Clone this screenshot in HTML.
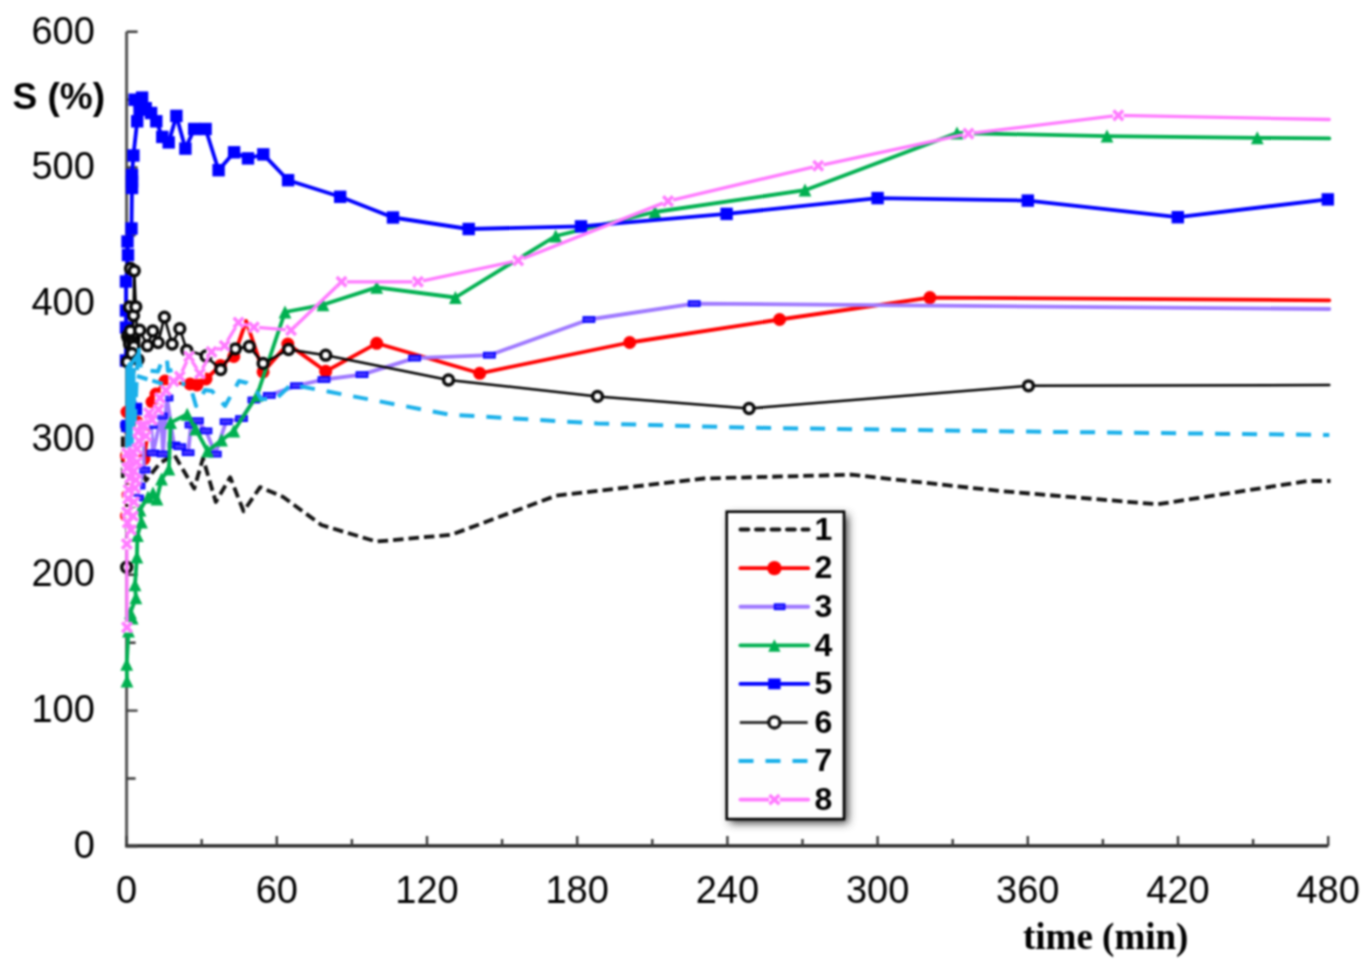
<!DOCTYPE html>
<html><head><meta charset="utf-8"><style>
html,body{margin:0;padding:0;background:#fff;}
svg{display:block;}
.tl{font-family:"Liberation Sans",sans-serif;font-size:38px;fill:#000;}
.yl{font-family:"Liberation Sans",sans-serif;font-size:37px;font-weight:bold;fill:#000;}
.xl{font-family:"Liberation Serif",serif;font-size:37px;font-weight:bold;fill:#000;}
.lg{font-family:"Liberation Sans",sans-serif;font-size:32px;font-weight:bold;fill:#000;}
</style></head><body>
<svg width="1372" height="972" viewBox="0 0 1372 972">
<defs><filter id="sh" x="-30%" y="-30%" width="160%" height="160%"><feGaussianBlur stdDeviation="4"/></filter><filter id="gb" x="0" y="0" width="1372" height="972" filterUnits="userSpaceOnUse" color-interpolation-filters="sRGB"><feConvolveMatrix order="5" kernelMatrix="1 4 6 4 1 4 16 24 16 4 6 24 36 24 6 4 16 24 16 4 1 4 6 4 1" edgeMode="duplicate" preserveAlpha="false"/></filter></defs>
<rect width="1372" height="972" fill="#fff"/>
<g filter="url(#gb)">
<path d="M126.6,31.699999999999932 V845.9" fill="none" stroke="#555" stroke-width="3"/>
<path d="M125.1,845.9 H1328.1839999999997" fill="none" stroke="#222" stroke-width="3.2"/>
<path d="M126.6,846.4h11 M126.6,778.5h9 M126.6,710.6h11 M126.6,642.7h9 M126.6,574.8h11 M126.6,506.9h9 M126.6,439.1h11 M126.6,371.2h9 M126.6,303.3h11 M126.6,235.4h9 M126.6,167.5h11 M126.6,99.6h9 M126.6,31.7h11 M126.6,845.9v-10 M201.7,845.9v-7 M276.8,845.9v-10 M351.9,845.9v-7 M427.0,845.9v-10 M502.1,845.9v-7 M577.2,845.9v-10 M652.3,845.9v-7 M727.4,845.9v-10 M802.5,845.9v-7 M877.6,845.9v-10 M952.7,845.9v-7 M1027.8,845.9v-10 M1102.9,845.9v-7 M1178.0,845.9v-10 M1253.1,845.9v-7 M1328.2,845.9v-10" stroke="#3a3a3a" stroke-width="2.4" fill="none"/>
<text x="94.8" y="857.7" text-anchor="end" class="tl">0</text>
<text x="94.8" y="722.0" text-anchor="end" class="tl">100</text>
<text x="94.8" y="586.3" text-anchor="end" class="tl">200</text>
<text x="94.8" y="450.6" text-anchor="end" class="tl">300</text>
<text x="94.8" y="314.9" text-anchor="end" class="tl">400</text>
<text x="94.8" y="179.2" text-anchor="end" class="tl">500</text>
<text x="94.8" y="43.5" text-anchor="end" class="tl">600</text>
<text x="126.6" y="902.5" text-anchor="middle" class="tl">0</text>
<text x="276.8" y="902.5" text-anchor="middle" class="tl">60</text>
<text x="427.0" y="902.5" text-anchor="middle" class="tl">120</text>
<text x="577.2" y="902.5" text-anchor="middle" class="tl">180</text>
<text x="727.4" y="902.5" text-anchor="middle" class="tl">240</text>
<text x="877.6" y="902.5" text-anchor="middle" class="tl">300</text>
<text x="1027.8" y="902.5" text-anchor="middle" class="tl">360</text>
<text x="1178.0" y="902.5" text-anchor="middle" class="tl">420</text>
<text x="1328.2" y="902.5" text-anchor="middle" class="tl">480</text>
<text x="12.5" y="108.7" class="yl">S (%)</text>
<text x="1023" y="948.6" class="xl">time (min)</text>
<path d="M122.8,478.0 L122.8,424.0 L146.0,480.5 L160.0,463.0 L174.2,454.7 L194.2,488.6 L203.0,458.3 L215.8,502.0 L230.2,477.3 L243.6,511.3 L260.1,487.1 L283.2,497.0 L321.4,525.0 L376.3,541.6 L451.5,534.7 L556.1,495.7 L703.8,478.5 L851.4,474.7 L1000.0,491.0 L1157.3,504.3 L1308.0,481.0 L1330.5,481.0" fill="none" stroke="#111" stroke-width="3.8" stroke-dasharray="10.5 5" stroke-linejoin="round"/>
<path d="M126.5,516.0 L128.0,495.0 L126.5,456.0 L127.0,412.0 L137.0,422.0 L144.0,459.0 L152.0,402.0 L156.0,394.0 L165.0,381.0 L190.0,384.0 L197.0,385.0 L206.0,379.0 L220.5,365.5 L233.8,356.5 L246.2,321.0 L263.1,371.9 L287.8,344.1 L325.7,371.3 L376.7,343.3 L479.7,373.3 L629.7,342.5 L779.6,319.5 L929.9,297.6 L1329.3,300.3" fill="none" stroke="#ff0000" stroke-width="3.8" stroke-linejoin="round" stroke-linecap="round"/>
<g fill="#ff0000"><circle cx="126.5" cy="516.0" r="6.5"/><circle cx="128.0" cy="495.0" r="6.5"/><circle cx="126.5" cy="456.0" r="6.5"/><circle cx="127.0" cy="412.0" r="6.5"/><circle cx="137.0" cy="422.0" r="6.5"/><circle cx="144.0" cy="459.0" r="6.5"/><circle cx="152.0" cy="402.0" r="6.5"/><circle cx="156.0" cy="394.0" r="6.5"/><circle cx="165.0" cy="381.0" r="6.5"/><circle cx="190.0" cy="384.0" r="6.5"/><circle cx="197.0" cy="385.0" r="6.5"/><circle cx="206.0" cy="379.0" r="6.5"/><circle cx="220.5" cy="365.5" r="6.5"/><circle cx="233.8" cy="356.5" r="6.5"/><circle cx="263.1" cy="371.9" r="6.5"/><circle cx="287.8" cy="344.1" r="6.5"/><circle cx="325.7" cy="371.3" r="6.5"/><circle cx="376.7" cy="343.3" r="6.5"/><circle cx="479.7" cy="373.3" r="6.5"/><circle cx="629.7" cy="342.5" r="6.5"/><circle cx="779.6" cy="319.5" r="6.5"/><circle cx="929.9" cy="297.6" r="6.5"/></g>
<path d="M126.5,425.0 L137.5,498.0 L139.0,486.0 L144.0,470.0 L142.8,425.4 L151.1,425.4 L153.0,453.0 L161.3,416.0 L163.0,454.0 L167.0,398.0 L174.0,445.0 L179.8,446.7 L188.1,452.7 L191.0,425.0 L197.4,420.7 L206.0,430.9 L215.3,454.1 L226.1,421.7 L241.5,418.6 L253.9,400.0 L269.3,395.4 L296.5,385.7 L324.0,379.5 L362.0,374.6 L414.6,358.1 L489.4,355.2 L588.9,319.5 L694.2,303.6 L1329.3,309.0" fill="none" stroke="#9e78ff" stroke-width="3.8" stroke-linejoin="round" stroke-linecap="round"/>
<g fill="#4433ff" stroke="#0000ff" stroke-width="1.6"><rect x="120.9" y="422.4" width="11.2" height="5.2"/><rect x="131.9" y="495.4" width="11.2" height="5.2"/><rect x="133.4" y="483.4" width="11.2" height="5.2"/><rect x="138.4" y="467.4" width="11.2" height="5.2"/><rect x="137.2" y="422.8" width="11.2" height="5.2"/><rect x="145.5" y="422.8" width="11.2" height="5.2"/><rect x="147.4" y="450.4" width="11.2" height="5.2"/><rect x="155.7" y="413.4" width="11.2" height="5.2"/><rect x="157.4" y="451.4" width="11.2" height="5.2"/><rect x="161.4" y="395.4" width="11.2" height="5.2"/><rect x="168.4" y="442.4" width="11.2" height="5.2"/><rect x="174.2" y="444.1" width="11.2" height="5.2"/><rect x="182.5" y="450.1" width="11.2" height="5.2"/><rect x="185.4" y="422.4" width="11.2" height="5.2"/><rect x="191.8" y="418.1" width="11.2" height="5.2"/><rect x="200.4" y="428.3" width="11.2" height="5.2"/><rect x="209.7" y="451.5" width="11.2" height="5.2"/><rect x="220.5" y="419.1" width="11.2" height="5.2"/><rect x="235.9" y="416.0" width="11.2" height="5.2"/><rect x="248.3" y="397.4" width="11.2" height="5.2"/><rect x="263.7" y="392.8" width="11.2" height="5.2"/><rect x="290.9" y="383.1" width="11.2" height="5.2"/><rect x="318.4" y="376.9" width="11.2" height="5.2"/><rect x="356.4" y="372.0" width="11.2" height="5.2"/><rect x="409.0" y="355.5" width="11.2" height="5.2"/><rect x="483.8" y="352.6" width="11.2" height="5.2"/><rect x="583.3" y="316.9" width="11.2" height="5.2"/><rect x="688.6" y="301.0" width="11.2" height="5.2"/></g>
<path d="M127.0,681.0 L126.7,664.4 L128.5,631.0 L132.2,618.0 L130.4,612.6 L135.9,597.8 L135.0,584.8 L136.9,557.0 L137.4,535.7 L141.5,522.0 L140.0,510.0 L148.0,497.0 L153.0,493.0 L157.0,499.0 L161.5,479.0 L168.9,469.0 L170.6,422.6 L187.2,414.3 L195.6,429.0 L207.6,451.0 L221.5,440.2 L233.8,431.0 L257.0,395.4 L285.0,312.0 L323.0,304.8 L376.7,287.4 L455.4,297.5 L555.7,236.0 L655.0,212.0 L805.0,190.2 L957.0,133.0 L1107.0,136.2 L1257.3,137.9 L1329.3,138.4" fill="none" stroke="#00b050" stroke-width="3.8" stroke-linejoin="round" stroke-linecap="round"/>
<g fill="#00b050"><path d="M127.0,674.4l6.4,13h-12.8z"/><path d="M126.7,657.8l6.4,13h-12.8z"/><path d="M128.5,624.4l6.4,13h-12.8z"/><path d="M132.2,611.4l6.4,13h-12.8z"/><path d="M130.4,606.0l6.4,13h-12.8z"/><path d="M135.9,591.2l6.4,13h-12.8z"/><path d="M135.0,578.2l6.4,13h-12.8z"/><path d="M136.9,550.4l6.4,13h-12.8z"/><path d="M137.4,529.1l6.4,13h-12.8z"/><path d="M141.5,515.4l6.4,13h-12.8z"/><path d="M140.0,503.4l6.4,13h-12.8z"/><path d="M148.0,490.4l6.4,13h-12.8z"/><path d="M153.0,486.4l6.4,13h-12.8z"/><path d="M157.0,492.4l6.4,13h-12.8z"/><path d="M161.5,472.4l6.4,13h-12.8z"/><path d="M168.9,462.4l6.4,13h-12.8z"/><path d="M170.6,416.0l6.4,13h-12.8z"/><path d="M187.2,407.7l6.4,13h-12.8z"/><path d="M195.6,422.4l6.4,13h-12.8z"/><path d="M207.6,444.4l6.4,13h-12.8z"/><path d="M221.5,433.6l6.4,13h-12.8z"/><path d="M233.8,424.4l6.4,13h-12.8z"/><path d="M257.0,388.8l6.4,13h-12.8z"/><path d="M285.0,305.4l6.4,13h-12.8z"/><path d="M323.0,298.2l6.4,13h-12.8z"/><path d="M376.7,280.8l6.4,13h-12.8z"/><path d="M455.4,290.9l6.4,13h-12.8z"/><path d="M555.7,229.4l6.4,13h-12.8z"/><path d="M655.0,205.4l6.4,13h-12.8z"/><path d="M805.0,183.6l6.4,13h-12.8z"/><path d="M957.0,126.4l6.4,13h-12.8z"/><path d="M1107.0,129.6l6.4,13h-12.8z"/><path d="M1257.3,131.3l6.4,13h-12.8z"/></g>
<path d="M127.5,426.0 L136.0,409.0 L126.0,360.5 L126.0,327.5 L126.0,310.5 L126.0,281.5 L128.0,255.0 L127.5,241.5 L131.5,228.5 L132.0,188.0 L132.0,181.5 L132.0,175.0 L133.4,155.5 L137.2,121.3 L134.7,99.7 L142.1,97.6 L139.6,109.7 L145.7,108.2 L151.1,113.0 L156.3,121.3 L162.3,136.9 L168.7,142.4 L176.4,115.9 L185.4,148.6 L194.2,129.0 L205.6,129.0 L218.6,170.2 L234.1,152.3 L248.0,158.4 L263.3,154.4 L288.1,180.2 L340.2,196.8 L393.0,217.5 L468.7,229.0 L581.0,226.4 L726.6,213.9 L877.6,198.1 L1027.8,200.6 L1177.8,217.2 L1327.8,199.4" fill="none" stroke="#0000ff" stroke-width="3.8" stroke-linejoin="round" stroke-linecap="round"/>
<g fill="#0000ff"><rect x="121.3" y="419.8" width="12.4" height="12.4"/><rect x="129.8" y="402.8" width="12.4" height="12.4"/><rect x="119.8" y="354.3" width="12.4" height="12.4"/><rect x="119.8" y="321.3" width="12.4" height="12.4"/><rect x="119.8" y="304.3" width="12.4" height="12.4"/><rect x="119.8" y="275.3" width="12.4" height="12.4"/><rect x="121.8" y="248.8" width="12.4" height="12.4"/><rect x="121.3" y="235.3" width="12.4" height="12.4"/><rect x="125.3" y="222.3" width="12.4" height="12.4"/><rect x="125.8" y="181.8" width="12.4" height="12.4"/><rect x="125.8" y="175.3" width="12.4" height="12.4"/><rect x="125.8" y="168.8" width="12.4" height="12.4"/><rect x="127.2" y="149.3" width="12.4" height="12.4"/><rect x="131.0" y="115.1" width="12.4" height="12.4"/><rect x="128.5" y="93.5" width="12.4" height="12.4"/><rect x="135.9" y="91.4" width="12.4" height="12.4"/><rect x="133.4" y="103.5" width="12.4" height="12.4"/><rect x="139.5" y="102.0" width="12.4" height="12.4"/><rect x="144.9" y="106.8" width="12.4" height="12.4"/><rect x="150.1" y="115.1" width="12.4" height="12.4"/><rect x="156.1" y="130.7" width="12.4" height="12.4"/><rect x="162.5" y="136.2" width="12.4" height="12.4"/><rect x="170.2" y="109.7" width="12.4" height="12.4"/><rect x="179.2" y="142.4" width="12.4" height="12.4"/><rect x="188.0" y="122.8" width="12.4" height="12.4"/><rect x="199.4" y="122.8" width="12.4" height="12.4"/><rect x="212.4" y="164.0" width="12.4" height="12.4"/><rect x="227.9" y="146.1" width="12.4" height="12.4"/><rect x="241.8" y="152.2" width="12.4" height="12.4"/><rect x="257.1" y="148.2" width="12.4" height="12.4"/><rect x="281.9" y="174.0" width="12.4" height="12.4"/><rect x="334.0" y="190.6" width="12.4" height="12.4"/><rect x="386.8" y="211.3" width="12.4" height="12.4"/><rect x="462.5" y="222.8" width="12.4" height="12.4"/><rect x="574.8" y="220.2" width="12.4" height="12.4"/><rect x="720.4" y="207.7" width="12.4" height="12.4"/><rect x="871.4" y="191.9" width="12.4" height="12.4"/><rect x="1021.6" y="194.4" width="12.4" height="12.4"/><rect x="1171.6" y="211.0" width="12.4" height="12.4"/><rect x="1321.6" y="193.2" width="12.4" height="12.4"/></g>
<path d="M126.7,567.2 L127.3,361.9 L127.5,336.0 L128.9,339.5 L131.0,341.0 L129.5,344.0 L133.0,343.5 L134.0,346.5 L130.4,331.0 L132.0,353.4 L133.5,315.6 L134.3,270.8 L135.8,306.8 L138.1,359.6 L139.7,330.2 L147.4,345.7 L152.8,331.0 L158.2,342.6 L164.4,317.1 L172.1,344.1 L179.8,328.7 L186.8,350.3 L206.0,356.0 L220.7,369.6 L235.4,348.8 L249.3,346.5 L263.1,363.4 L288.6,349.5 L325.7,355.2 L448.5,380.0 L597.5,396.4 L749.1,408.5 L1028.5,385.8 L1329.3,385.0" fill="none" stroke="#000" stroke-width="2.5" stroke-linejoin="round" stroke-linecap="round"/>
<g fill="#fff" stroke="#080808" stroke-width="3.5"><circle cx="130.5" cy="268.5" r="4.9"/><circle cx="129.5" cy="307.0" r="4.9"/><circle cx="126.7" cy="567.2" r="4.9"/><circle cx="127.3" cy="361.9" r="4.9"/><circle cx="127.5" cy="336.0" r="4.9"/><circle cx="128.9" cy="339.5" r="4.9"/><circle cx="131.0" cy="341.0" r="4.9"/><circle cx="129.5" cy="344.0" r="4.9"/><circle cx="133.0" cy="343.5" r="4.9"/><circle cx="134.0" cy="346.5" r="4.9"/><circle cx="130.4" cy="331.0" r="4.9"/><circle cx="132.0" cy="353.4" r="4.9"/><circle cx="133.5" cy="315.6" r="4.9"/><circle cx="134.3" cy="270.8" r="4.9"/><circle cx="135.8" cy="306.8" r="4.9"/><circle cx="138.1" cy="359.6" r="4.9"/><circle cx="139.7" cy="330.2" r="4.9"/><circle cx="147.4" cy="345.7" r="4.9"/><circle cx="152.8" cy="331.0" r="4.9"/><circle cx="158.2" cy="342.6" r="4.9"/><circle cx="164.4" cy="317.1" r="4.9"/><circle cx="172.1" cy="344.1" r="4.9"/><circle cx="179.8" cy="328.7" r="4.9"/><circle cx="186.8" cy="350.3" r="4.9"/><circle cx="206.0" cy="356.0" r="4.9"/><circle cx="220.7" cy="369.6" r="4.9"/><circle cx="235.4" cy="348.8" r="4.9"/><circle cx="249.3" cy="346.5" r="4.9"/><circle cx="263.1" cy="363.4" r="4.9"/><circle cx="288.6" cy="349.5" r="4.9"/><circle cx="325.7" cy="355.2" r="4.9"/><circle cx="448.5" cy="380.0" r="4.9"/><circle cx="597.5" cy="396.4" r="4.9"/><circle cx="749.1" cy="408.5" r="4.9"/><circle cx="1028.5" cy="385.8" r="4.9"/></g>
<path d="M127.0,450.0 L129.0,365.0 L131.0,420.0 L133.0,380.0 L135.0,420.0 L138.0,348.0 L141.0,370.0 L158.0,371.5 L163.0,358.0 L167.0,360.0 L168.0,371.0 L181.0,368.0 L184.0,387.6 L192.0,392.0 L196.0,406.0 L205.0,390.0 L212.0,391.0 L225.0,406.0 L239.0,381.0 L247.0,383.0 L257.0,392.0 L261.0,399.0 L276.0,399.0 L291.0,384.6 L449.0,414.5 L597.5,423.5 L749.1,427.7 L1028.5,431.6 L1329.3,435.0" fill="none" stroke="#1ab0ea" stroke-width="4" stroke-dasharray="15 12" stroke-linejoin="round"/>
<path d="M127.5,448V366M130.5,448V362M133.5,448V368M131,365C133,358 141,356 138.5,348" fill="none" stroke="#1ab0ea" stroke-width="4"/>
<path d="M137,376L163,384" fill="none" stroke="#1ab0ea" stroke-width="4" stroke-dasharray="11 5"/>
<path d="M127.0,627.4 L126.8,544.0 L127.6,522.7 L131.0,530.0 L127.0,512.0 L133.0,516.0 L128.0,498.8 L134.0,502.0 L128.5,489.8 L135.0,488.0 L130.0,478.0 L136.0,480.0 L134.0,471.0 L127.0,468.0 L130.0,460.0 L137.0,462.0 L127.0,453.0 L133.0,452.0 L137.0,449.0 L139.0,441.0 L138.0,432.0 L146.0,436.0 L141.0,426.0 L144.0,425.0 L149.0,413.0 L152.0,420.0 L158.5,409.6 L160.0,398.0 L165.9,390.4 L173.6,381.2 L179.8,376.5 L189.1,356.5 L199.9,373.5 L211.5,351.9 L224.6,345.7 L238.5,322.5 L253.9,327.2 L291.0,330.2 L341.5,281.8 L417.9,281.8 L518.2,260.5 L668.0,201.1 L818.2,165.8 L968.4,133.6 L1118.3,115.4 L1329.3,119.5" fill="none" stroke="#ff7aff" stroke-width="3.3" stroke-linejoin="round" stroke-linecap="round"/>
<g fill="#fff"><rect x="121.8" y="622.2" width="10.4" height="10.4"/><rect x="121.6" y="538.8" width="10.4" height="10.4"/><rect x="122.4" y="517.5" width="10.4" height="10.4"/><rect x="125.8" y="524.8" width="10.4" height="10.4"/><rect x="121.8" y="506.8" width="10.4" height="10.4"/><rect x="127.8" y="510.8" width="10.4" height="10.4"/><rect x="122.8" y="493.6" width="10.4" height="10.4"/><rect x="128.8" y="496.8" width="10.4" height="10.4"/><rect x="123.3" y="484.6" width="10.4" height="10.4"/><rect x="129.8" y="482.8" width="10.4" height="10.4"/><rect x="124.8" y="472.8" width="10.4" height="10.4"/><rect x="130.8" y="474.8" width="10.4" height="10.4"/><rect x="128.8" y="465.8" width="10.4" height="10.4"/><rect x="121.8" y="462.8" width="10.4" height="10.4"/><rect x="124.8" y="454.8" width="10.4" height="10.4"/><rect x="131.8" y="456.8" width="10.4" height="10.4"/><rect x="121.8" y="447.8" width="10.4" height="10.4"/><rect x="127.8" y="446.8" width="10.4" height="10.4"/><rect x="131.8" y="443.8" width="10.4" height="10.4"/><rect x="133.8" y="435.8" width="10.4" height="10.4"/><rect x="132.8" y="426.8" width="10.4" height="10.4"/><rect x="140.8" y="430.8" width="10.4" height="10.4"/><rect x="135.8" y="420.8" width="10.4" height="10.4"/><rect x="138.8" y="419.8" width="10.4" height="10.4"/><rect x="143.8" y="407.8" width="10.4" height="10.4"/><rect x="146.8" y="414.8" width="10.4" height="10.4"/><rect x="153.3" y="404.4" width="10.4" height="10.4"/><rect x="154.8" y="392.8" width="10.4" height="10.4"/><rect x="160.7" y="385.2" width="10.4" height="10.4"/><rect x="168.4" y="376.0" width="10.4" height="10.4"/><rect x="174.6" y="371.3" width="10.4" height="10.4"/><rect x="183.9" y="351.3" width="10.4" height="10.4"/><rect x="194.7" y="368.3" width="10.4" height="10.4"/><rect x="206.3" y="346.7" width="10.4" height="10.4"/><rect x="219.4" y="340.5" width="10.4" height="10.4"/><rect x="233.3" y="317.3" width="10.4" height="10.4"/><rect x="248.7" y="322.0" width="10.4" height="10.4"/><rect x="285.8" y="325.0" width="10.4" height="10.4"/><rect x="336.3" y="276.6" width="10.4" height="10.4"/><rect x="412.7" y="276.6" width="10.4" height="10.4"/><rect x="513.0" y="255.3" width="10.4" height="10.4"/><rect x="662.8" y="195.9" width="10.4" height="10.4"/><rect x="813.0" y="160.6" width="10.4" height="10.4"/><rect x="963.2" y="128.4" width="10.4" height="10.4"/><rect x="1113.1" y="110.2" width="10.4" height="10.4"/></g>
<g stroke="#ff7aff" stroke-width="3.5"><path d="M122.2,622.6l9.6,9.6m0,-9.6l-9.6,9.6"/><path d="M122.0,539.2l9.6,9.6m0,-9.6l-9.6,9.6"/><path d="M122.8,517.9l9.6,9.6m0,-9.6l-9.6,9.6"/><path d="M126.2,525.2l9.6,9.6m0,-9.6l-9.6,9.6"/><path d="M122.2,507.2l9.6,9.6m0,-9.6l-9.6,9.6"/><path d="M128.2,511.2l9.6,9.6m0,-9.6l-9.6,9.6"/><path d="M123.2,494.0l9.6,9.6m0,-9.6l-9.6,9.6"/><path d="M129.2,497.2l9.6,9.6m0,-9.6l-9.6,9.6"/><path d="M123.7,485.0l9.6,9.6m0,-9.6l-9.6,9.6"/><path d="M130.2,483.2l9.6,9.6m0,-9.6l-9.6,9.6"/><path d="M125.2,473.2l9.6,9.6m0,-9.6l-9.6,9.6"/><path d="M131.2,475.2l9.6,9.6m0,-9.6l-9.6,9.6"/><path d="M129.2,466.2l9.6,9.6m0,-9.6l-9.6,9.6"/><path d="M122.2,463.2l9.6,9.6m0,-9.6l-9.6,9.6"/><path d="M125.2,455.2l9.6,9.6m0,-9.6l-9.6,9.6"/><path d="M132.2,457.2l9.6,9.6m0,-9.6l-9.6,9.6"/><path d="M122.2,448.2l9.6,9.6m0,-9.6l-9.6,9.6"/><path d="M128.2,447.2l9.6,9.6m0,-9.6l-9.6,9.6"/><path d="M132.2,444.2l9.6,9.6m0,-9.6l-9.6,9.6"/><path d="M134.2,436.2l9.6,9.6m0,-9.6l-9.6,9.6"/><path d="M133.2,427.2l9.6,9.6m0,-9.6l-9.6,9.6"/><path d="M141.2,431.2l9.6,9.6m0,-9.6l-9.6,9.6"/><path d="M136.2,421.2l9.6,9.6m0,-9.6l-9.6,9.6"/><path d="M139.2,420.2l9.6,9.6m0,-9.6l-9.6,9.6"/><path d="M144.2,408.2l9.6,9.6m0,-9.6l-9.6,9.6"/><path d="M147.2,415.2l9.6,9.6m0,-9.6l-9.6,9.6"/><path d="M153.7,404.8l9.6,9.6m0,-9.6l-9.6,9.6"/><path d="M155.2,393.2l9.6,9.6m0,-9.6l-9.6,9.6"/><path d="M161.1,385.6l9.6,9.6m0,-9.6l-9.6,9.6"/><path d="M168.8,376.4l9.6,9.6m0,-9.6l-9.6,9.6"/><path d="M175.0,371.7l9.6,9.6m0,-9.6l-9.6,9.6"/><path d="M184.3,351.7l9.6,9.6m0,-9.6l-9.6,9.6"/><path d="M195.1,368.7l9.6,9.6m0,-9.6l-9.6,9.6"/><path d="M206.7,347.1l9.6,9.6m0,-9.6l-9.6,9.6"/><path d="M219.8,340.9l9.6,9.6m0,-9.6l-9.6,9.6"/><path d="M233.7,317.7l9.6,9.6m0,-9.6l-9.6,9.6"/><path d="M249.1,322.4l9.6,9.6m0,-9.6l-9.6,9.6"/><path d="M286.2,325.4l9.6,9.6m0,-9.6l-9.6,9.6"/><path d="M336.7,277.0l9.6,9.6m0,-9.6l-9.6,9.6"/><path d="M413.1,277.0l9.6,9.6m0,-9.6l-9.6,9.6"/><path d="M513.4,255.7l9.6,9.6m0,-9.6l-9.6,9.6"/><path d="M663.2,196.3l9.6,9.6m0,-9.6l-9.6,9.6"/><path d="M813.4,161.0l9.6,9.6m0,-9.6l-9.6,9.6"/><path d="M963.6,128.8l9.6,9.6m0,-9.6l-9.6,9.6"/><path d="M1113.5,110.6l9.6,9.6m0,-9.6l-9.6,9.6"/></g>
<rect x="730" y="515" width="118" height="308" fill="#3a3a3a" filter="url(#sh)"/>
<rect x="726.7" y="511.7" width="117.3" height="307.4" fill="#fff" fill-opacity="0.995" stroke="#000" stroke-width="2.6"/>
<path d="M740.5,529.6H808.5" stroke="#111" stroke-width="4" stroke-dasharray="7.8 7.7" stroke-linecap="round"/>
<path d="M740.4,568.1700000000001H808.2" stroke="#ff0000" stroke-width="3.8" stroke-linecap="round"/>
<circle cx="774.4" cy="568.1700000000001" r="7.2" fill="#ff0000"/>
<path d="M740.4,606.74H808.2" stroke="#9e78ff" stroke-width="3.8" stroke-linecap="round"/>
<rect x="774.6" y="604.14" width="10" height="5.2" fill="#4433ff" stroke="#0000ff" stroke-width="1.6"/>
<path d="M740.4,645.3100000000001H808.2" stroke="#00b050" stroke-width="3.8" stroke-linecap="round"/>
<path d="M774.4,639.3100000000001 l6.2,12.5 h-12.4z" fill="#00b050"/>
<path d="M740.4,683.88H808.2" stroke="#0000ff" stroke-width="3.8" stroke-linecap="round"/>
<rect x="768.2" y="678.48" width="12.4" height="10.8" fill="#0000ff"/>
<path d="M739.8,722.45H807.7" stroke="#333" stroke-width="3"/>
<circle cx="774.4" cy="722.45" r="5.6" fill="#fff" stroke="#111" stroke-width="3.4"/>
<path d="M738.5,761.02H808" stroke="#1ab0ea" stroke-width="4" stroke-dasharray="15 12" stroke-linecap="butt"/>
<path d="M740.4,799.59H808.2" stroke="#ff7aff" stroke-width="3.8" stroke-linecap="round"/>
<rect x="769.1" y="794.2900000000001" width="10.6" height="10.6" fill="#fff"/>
<path d="M769.5,794.89l9.8,9.4M779.3,794.89l-9.8,9.4" stroke="#ff7aff" stroke-width="3.5"/>
</g><g filter="url(#gb)">
<text x="814.5" y="539.8" class="lg">1</text>
<text x="814.5" y="578.4" class="lg">2</text>
<text x="814.5" y="616.9" class="lg">3</text>
<text x="814.5" y="655.5" class="lg">4</text>
<text x="814.5" y="694.1" class="lg">5</text>
<text x="814.5" y="732.7" class="lg">6</text>
<text x="814.5" y="771.2" class="lg">7</text>
<text x="814.5" y="809.8" class="lg">8</text>
</g>
</svg>
</body></html>
